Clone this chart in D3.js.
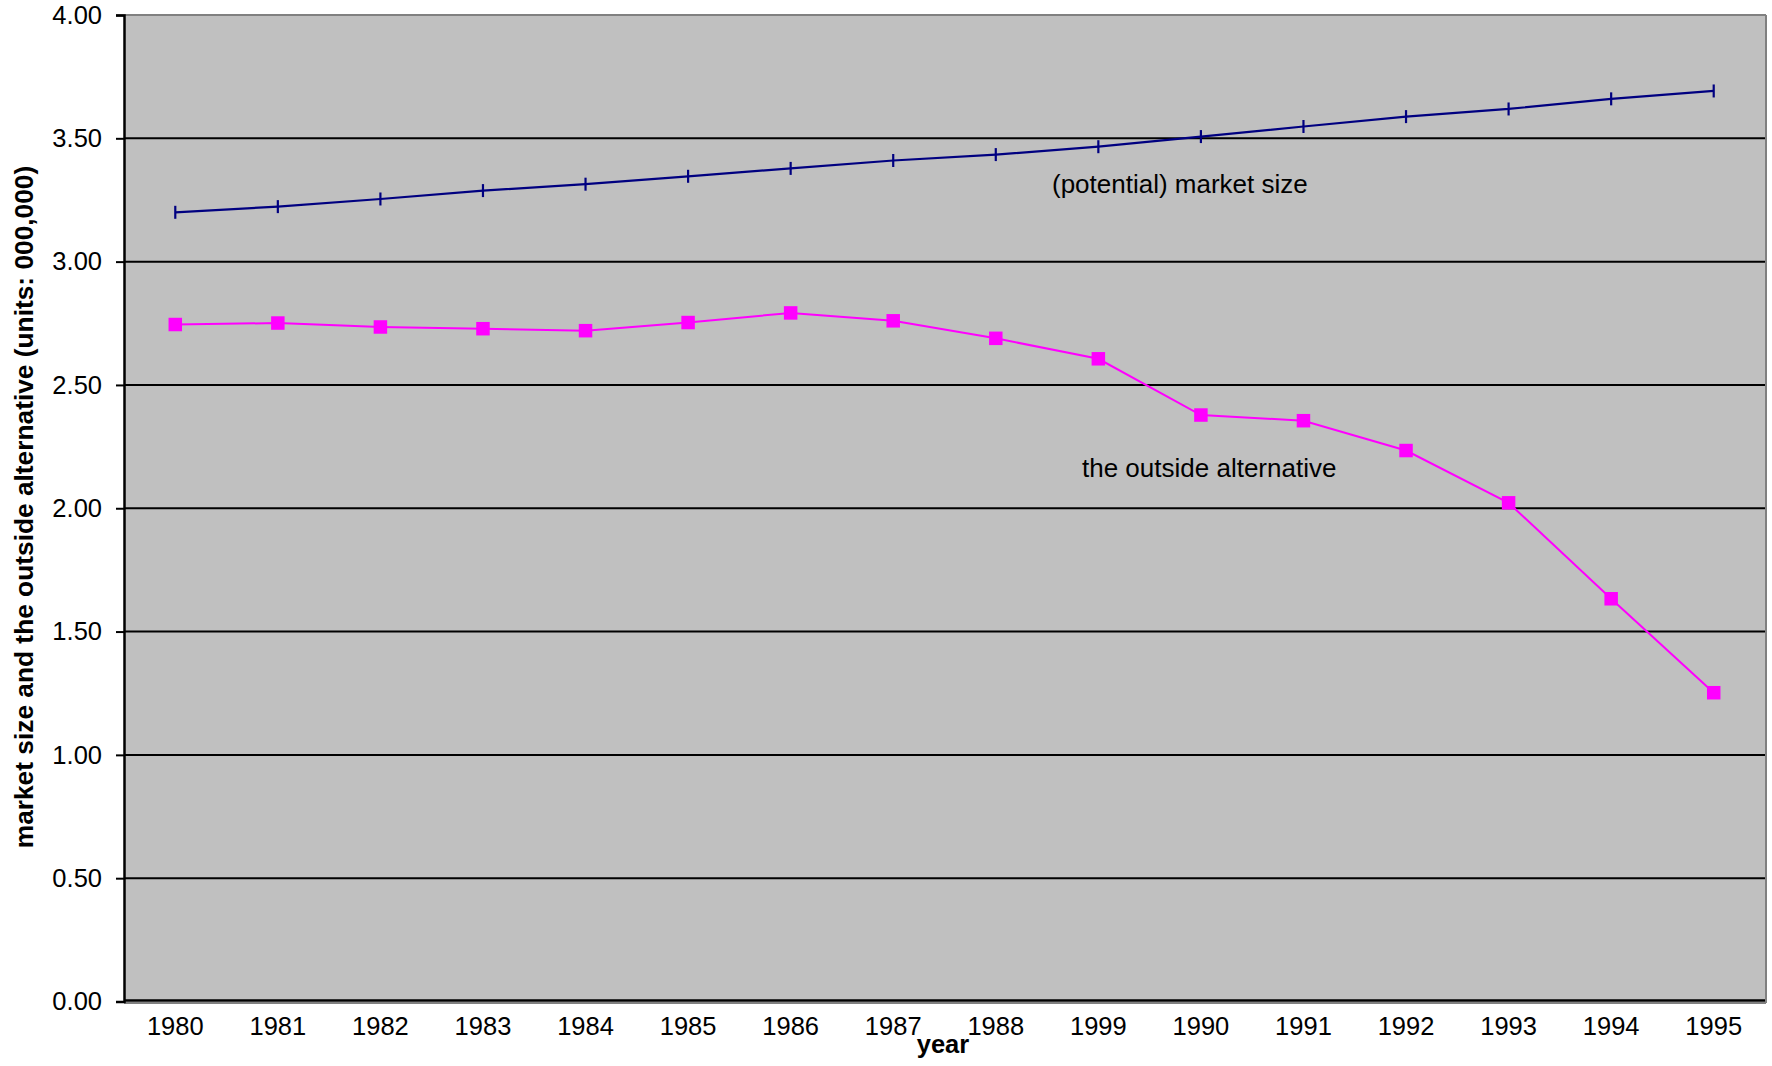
<!DOCTYPE html>
<html>
<head>
<meta charset="utf-8">
<script src="https://cdn.jsdelivr.net/npm/d3@7"></script>
<style>
  html, body { margin: 0; padding: 0; background: #ffffff; }
  svg { display: block; font-family: "Liberation Sans", Arial, sans-serif; }
</style>
</head>
<body>
<svg id="chart" width="1772" height="1066"></svg>
<script>
// ---- data ----
const years = ["1980","1981","1982","1983","1984","1985","1986","1987","1988","1999","1990","1991","1992","1993","1994","1995"];
const marketSize = [3.200, 3.223, 3.254, 3.288, 3.314, 3.346, 3.378, 3.410, 3.434, 3.466, 3.507, 3.548, 3.588, 3.619, 3.660, 3.692];
const outsideAlt = [2.745, 2.751, 2.735, 2.728, 2.720, 2.753, 2.792, 2.760, 2.689, 2.606, 2.378, 2.355, 2.234, 2.022, 1.633, 1.252];
const yTicks = [0, 0.5, 1, 1.5, 2, 2.5, 3, 3.5, 4];

// ---- layout ----
const L = 124, R = 1765, T = 15, B = 1001.5;
const svg = d3.select("#chart");

const x = d3.scaleBand().domain(years).range([L, R]);
const y = d3.scaleLinear().domain([0, 4]).range([B, T]);
const cx = d => x(d) + x.bandwidth() / 2;

// plot background
svg.append("rect").attr("x", L).attr("y", T).attr("width", R - L).attr("height", B - T).attr("fill", "#c0c0c0");

// gridlines
svg.append("g").selectAll("line").data(yTicks.filter(v => v > 0 && v < 4)).join("line")
  .attr("x1", L).attr("x2", R).attr("y1", d => y(d)).attr("y2", d => y(d))
  .attr("stroke", "#000").attr("stroke-width", 2);

// border top/right (gray)
svg.append("line").attr("x1", L).attr("x2", R + 1).attr("y1", T).attr("y2", T).attr("stroke", "#808080").attr("stroke-width", 2);
svg.append("line").attr("x1", R + 1).attr("x2", R + 1).attr("y1", T).attr("y2", B + 1.5).attr("stroke", "#808080").attr("stroke-width", 2);
svg.append("line").attr("x1", L).attr("x2", R + 1).attr("y1", B + 1.5).attr("y2", B + 1.5).attr("stroke", "#808080").attr("stroke-width", 2);

// y axis
const yAxis = d3.axisLeft(y).tickValues(yTicks).tickFormat(d3.format(".2f")).tickSize(8).tickPadding(14);
const gy = svg.append("g").attr("transform", `translate(${L},0)`).call(yAxis);
gy.select(".domain").attr("stroke", "#000").attr("stroke-width", 2.5);
gy.selectAll(".tick line").attr("stroke", "#000").attr("stroke-width", 2);
gy.selectAll(".tick text").attr("font-size", 25.5).attr("fill", "#000").attr("font-family", "Liberation Sans, Arial, sans-serif");

// x axis
const xAxis = d3.axisBottom(x).tickSize(0).tickPadding(0);
const gx = svg.append("g").attr("transform", `translate(0,${B - 1})`).call(xAxis);
gx.select(".domain").attr("stroke", "#000").attr("stroke-width", 2.5).attr("d", `M${L},0H${R}`);
gx.selectAll(".tick text").attr("font-size", 25.5).attr("fill", "#000").attr("dy", 0).attr("y", 34.5)
  .attr("font-family", "Liberation Sans, Arial, sans-serif");

// lines
const lineGen = arr => d3.line().x((d, i) => cx(years[i])).y(d => y(d))(arr);

svg.append("path").attr("d", lineGen(marketSize)).attr("fill", "none").attr("stroke", "#000080").attr("stroke-width", 2.2);
svg.append("g").selectAll("line").data(marketSize).join("line")
  .attr("x1", (d, i) => cx(years[i])).attr("x2", (d, i) => cx(years[i]))
  .attr("y1", d => y(d) - 6.5).attr("y2", d => y(d) + 6.5)
  .attr("stroke", "#000080").attr("stroke-width", 2.2);

svg.append("path").attr("d", lineGen(outsideAlt)).attr("fill", "none").attr("stroke", "#ff00ff").attr("stroke-width", 2);
const ms = 13.5;
svg.append("g").selectAll("rect").data(outsideAlt).join("rect")
  .attr("x", (d, i) => cx(years[i]) - ms / 2).attr("y", d => y(d) - ms / 2)
  .attr("width", ms).attr("height", ms).attr("fill", "#ff00ff");

// annotations
svg.append("text").attr("x", 1052).attr("y", 193).attr("font-size", 26).attr("fill", "#000").text("(potential) market size");
svg.append("text").attr("x", 1082).attr("y", 477).attr("font-size", 26).attr("fill", "#000").text("the outside alternative");

// axis titles
svg.append("text").attr("x", 943).attr("y", 1053).attr("text-anchor", "middle").attr("font-size", 25.5).attr("font-weight", "bold").attr("fill", "#000").text("year");
svg.append("text").attr("transform", "translate(33,507) rotate(-90)").attr("text-anchor", "middle").attr("font-size", 26.3).attr("font-weight", "bold").attr("fill", "#000")
  .text("market size and the outside alternative (units: 000,000)");
</script>
</body>
</html>
